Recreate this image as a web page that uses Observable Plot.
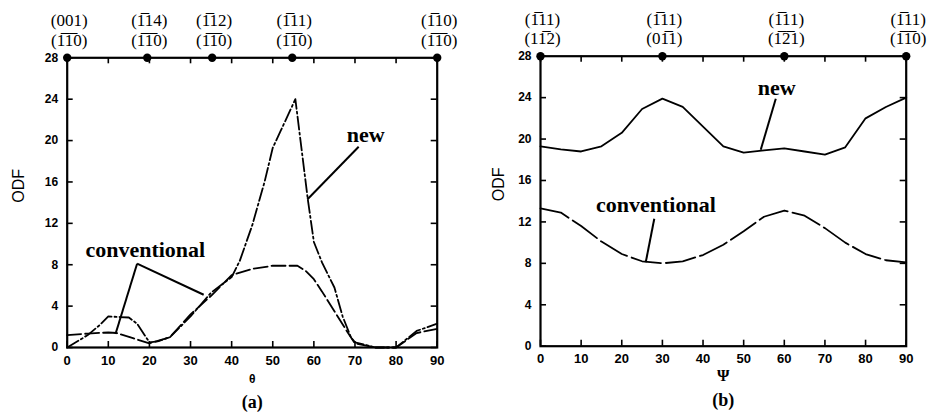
<!DOCTYPE html>
<html><head><meta charset="utf-8">
<script src="https://cdn.jsdelivr.net/npm/d3@7"></script>
<script src="https://cdn.jsdelivr.net/npm/@observablehq/plot@0.6"></script>
<style>
body{margin:0;background:#fff}
#wrap{display:flex;width:928px;height:419px;overflow:hidden}
#wrap svg{display:block}
</style></head><body><div id="wrap"></div>
<script>
// ---------- data ----------
const angleTicks = [0,10,20,30,40,50,60,70,80,90];
const odfTicks = [0,4,8,12,16,20,24,28];

// panel (a): theta
const thetaNewX  = [0,5,8,10,15,17,20,22,25,30,35,40,42,45,48,50,52,55.5,58.5,60,62,65,67,69,70,75,80,85,90];
const thetaNewY  = [0,1.2,2.2,3.0,2.9,2.3,0.5,0.6,1.0,3.0,5.3,6.8,8.4,11.8,16.0,19.3,21.0,24.0,14.4,10.2,8.2,5.8,3.0,1.0,0.5,0,0,1.6,2.3];
const thetaConvX = [0,5,10,12,16,20,25,30,35,40,45,50,56,58,60,62,65,68,70,75,80,85,90];
const thetaConvY = [1.2,1.35,1.45,1.4,0.9,0.4,1.0,3.2,5.0,7.0,7.6,7.9,7.9,7.4,6.6,5.4,3.5,1.6,0.4,0,0,1.4,1.8];
const thetaMarkX = [0,19.47,35.26,54.74,90];
const thetaMarkLabels = ["(001)\n(1\u03051\u03050)","(1\u030514)\n(1\u03051\u03050)","(1\u030512)\n(1\u03051\u03050)","(1\u030511)\n(1\u03051\u03050)","(1\u030510)\n(1\u03051\u03050)"];
const thetaNotes = [{text:"new", x:72.6, y:20.5}, {text:"conventional", x:19.0, y:9.4}];
const thetaLeaders = [
  {x1:70.9, y1:19.4, x2:58.4, y2:14.3},
  {x1:17.0, y1:8.1, x2:11.75, y2:1.3},
  {x1:17.0, y1:8.1, x2:33.2, y2:5.1}
];

// panel (b): psi
const psiX     = [0,5,10,15,20,25,30,35,40,45,50,55,60,65,70,75,80,85,90];
const psiNewY  = [19.3,19.0,18.8,19.3,20.6,22.9,23.9,23.1,21.2,19.3,18.7,18.9,19.1,18.8,18.5,19.2,22.0,23.1,24.0];
const psiConvY = [13.3,12.9,11.6,10.1,8.9,8.2,8.0,8.2,8.8,9.8,11.1,12.5,13.1,12.6,11.4,10.0,8.9,8.3,8.1];
const psiMarkX = [0,30,60,90];
const psiMarkLabels = ["(1\u030511)\n(11\u03052)","(1\u030511)\n(01\u03051)","(1\u030511)\n(1\u03052\u03051)","(1\u030511)\n(1\u03051\u03050)"];
const psiNotes = [{text:"new", x:58.1, y:24.9}, {text:"conventional", x:28.4, y:13.6}];
const psiLeaders = [
  {x1:57.9, y1:23.9, x2:54.2, y2:18.96},
  {x1:28.0, y1:12.3, x2:25.9, y2:8.1}
];

// ---------- drawing ----------
const SERIF = "'Liberation Serif','DejaVu Serif','Times New Roman',serif";
const SANS = "'Liberation Sans',Arial,sans-serif";

function panel(cfg) {
  const W = 464, H = 419;
  const fw = W - cfg.ml - cfg.mr, fh = H - cfg.mt - cfg.mb;
  const marks = [
    Plot.tickX(angleTicks, {x: d => d, insetTop: fh - 6, stroke: "black", strokeWidth: 1.6}),
    Plot.tickX(angleTicks, {x: d => d, insetBottom: fh - 6, stroke: "black", strokeWidth: 1.6}),
    Plot.tickY(odfTicks, {y: d => d, insetRight: fw - 6, stroke: "black", strokeWidth: 1.6}),
    Plot.tickY(odfTicks, {y: d => d, insetLeft: fw - 6, stroke: "black", strokeWidth: 1.6}),
    Plot.frame({stroke: "black", strokeWidth: 2.2}),
    Plot.axisX({ticks: angleTicks, tickSize: 0, tickPadding: 8, fontWeight: "bold", fontSize: 13, label: null, fontFamily: SANS}),
    Plot.axisY({ticks: odfTicks, tickSize: 0, tickPadding: 9, fontWeight: "bold", fontSize: 12, label: null, fontFamily: SANS}),
    Plot.text(["ODF"], {frameAnchor: "left", rotate: -90, dx: cfg.odfDx, fontSize: 16, fontFamily: SANS, text: d => d}),
    Plot.text([cfg.xlabel], {frameAnchor: "bottom", dy: 35, text: d => d, fontSize: cfg.xlabelSize, fontWeight: "bold", fontFamily: cfg.xlabelFont}),
    Plot.text([cfg.caption], {frameAnchor: "bottom", dy: 60, text: d => d, fontSize: 18, fontWeight: "bold", fontFamily: SERIF}),
    Plot.text(cfg.markX, {x: d => d, text: (d, i) => cfg.markLabels[i], frameAnchor: "top", dy: cfg.labelDy, dx: 2, lineAnchor: "middle", lineHeight: 1.15, fontSize: 17, fontFamily: SERIF}),
    Plot.dot(cfg.markX, {x: d => d, frameAnchor: "top", r: 4.2, fill: "black"}),
  ];
  for (const s of cfg.series) {
    marks.push(Plot.line(s.x.map((x, i) => ({x, y: s.y[i]})), {x: "x", y: "y", stroke: "black", strokeWidth: 1.8, strokeDasharray: s.dash, strokeLinejoin: "round"}));
  }
  marks.push(Plot.link(cfg.leaders, {x1: "x1", y1: "y1", x2: "x2", y2: "y2", stroke: "black", strokeWidth: 2}));
  marks.push(Plot.text(cfg.notes, {x: "x", y: "y", text: "text", fontSize: 22, fontWeight: "bold", fontFamily: SERIF, fill: "black"}));
  return Plot.plot({
    width: W, height: H,
    marginLeft: cfg.ml, marginRight: cfg.mr, marginTop: cfg.mt, marginBottom: cfg.mb,
    x: {domain: [0, 90]}, y: {domain: [0, 28]},
    style: {fontFamily: SANS, background: "white", color: "black", overflow: "visible"},
    marks
  });
}

const wrap = document.getElementById("wrap");
wrap.append(panel({
  ml: 66.7, mr: 27.3, mt: 57.3, mb: 72,
  odfDx: -48, xlabel: "\u03b8", xlabelSize: 12, xlabelFont: SANS, caption: "(a)", labelDy: -28,
  markX: thetaMarkX, markLabels: thetaMarkLabels,
  series: [
    {x: thetaNewX, y: thetaNewY, dash: "13,3,2,3"},
    {x: thetaConvX, y: thetaConvY, dash: "14,4"}
  ],
  leaders: thetaLeaders, notes: thetaNotes
}));
wrap.append(panel({
  ml: 76, mr: 22.3, mt: 55.7, mb: 73.3,
  odfDx: -42, xlabel: "\u03a8", xlabelSize: 16, xlabelFont: SERIF, caption: "(b)", labelDy: -28,
  markX: psiMarkX, markLabels: psiMarkLabels,
  series: [
    {x: psiX, y: psiNewY, dash: null},
    {x: psiX, y: psiConvY, dash: "30,5"}
  ],
  leaders: psiLeaders, notes: psiNotes
}));
</script></body></html>
